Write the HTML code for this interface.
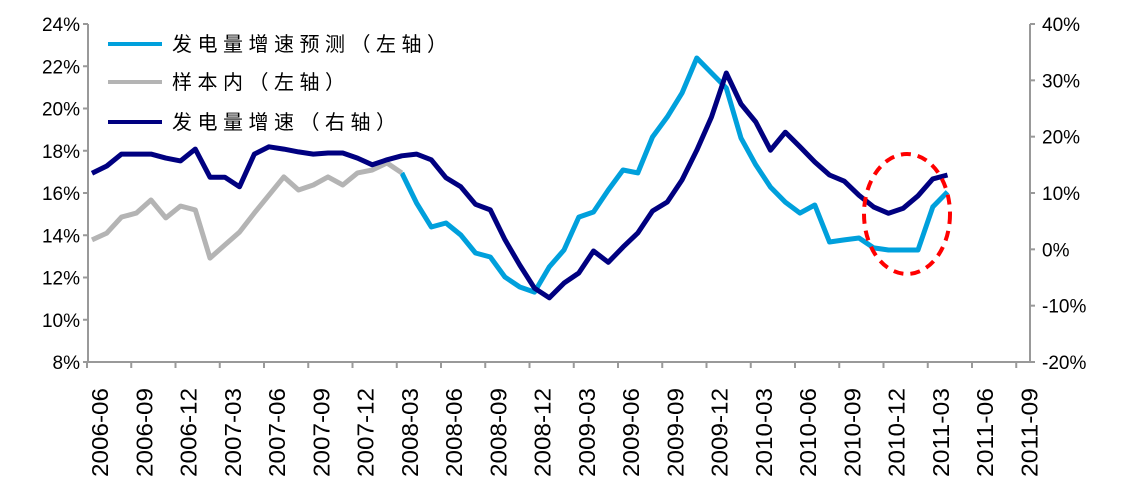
<!DOCTYPE html>
<html><head><meta charset="utf-8"><style>
html,body{margin:0;padding:0;background:#fff;}
svg text{font-family:"Liberation Sans","Noto Sans CJK SC",sans-serif;}
</style></head><body>
<svg id="c" width="1125" height="489" xmlns="http://www.w3.org/2000/svg"></svg>
<script>
const categories=[];
for(let i=0;i<64;i++){const m=5+i;const y=2006+Math.floor(m/12);const mm=(m%12)+1;categories.push(y+'-'+(mm<10?'0':'')+mm);}
const leftTicks=[8,10,12,14,16,18,20,22,24];
const rightTicks=[-20,-10,0,10,20,30,40];
const sampleValues=[13.78,14.1,14.86,15.05,15.67,14.82,15.38,15.2,12.92,13.54,14.15,15.05,15.9,16.76,16.14,16.38,16.76,16.38,16.95,17.09,17.42,16.95];
const forecastValues=[16.95,15.53,14.39,14.58,14.01,13.16,12.97,12.02,11.55,11.31,12.5,13.3,14.86,15.1,16.14,17.09,16.95,18.65,19.6,20.73,22.39,21.68,20.97,18.6,17.33,16.28,15.57,15.05,15.43,13.68,13.78,13.87,13.4,13.3,13.3,13.3,15.34,16.05];
const forecastStart=21;
const growthValues=[13.5,14.8,16.9,16.9,16.9,16.2,15.7,17.8,12.8,12.8,11.1,16.9,18.2,17.8,17.3,16.9,17.1,17.1,16.2,15.0,15.9,16.6,16.9,15.9,12.7,11.1,8.0,7.0,1.7,-2.8,-6.9,-8.6,-6.0,-4.2,-0.3,-2.3,0.4,2.9,6.8,8.4,12.3,17.6,23.5,31.3,25.8,22.6,17.6,20.8,18.2,15.5,13.2,12.1,9.6,7.5,6.4,7.3,9.5,12.5,13.2];

const svg=document.getElementById('c');const NS='http://www.w3.org/2000/svg';
const L=88,R=1030,T=24,B=362;
const x=i=>92+i*14.75;
const yl=v=>T+(24-v)*(B-T)/16;
const yr=v=>T+(40-v)*(B-T)/60;
function el(t,a,p){const e=document.createElementNS(NS,t);for(const k in a)e.setAttribute(k,a[k]);(p||svg).appendChild(e);return e;}
let a=el('line',{x1:L,y1:T,x2:L,y2:B,stroke:'#999','stroke-width':2});


a=el('line',{x1:R,y1:T,x2:R,y2:B,stroke:'#999','stroke-width':2});


a=el('line',{x1:L,y1:B,x2:R,y2:B,stroke:'#999','stroke-width':2});


leftTicks.forEach(v=>{el('line',{x1:L-5,y1:yl(v),x2:L,y2:yl(v),stroke:'#999','stroke-width':2});
const t=el('text',{x:80,y:yl(v)+7,'text-anchor':'end','font-size':19,fill:'#000'});t.textContent=v+'%';

});
rightTicks.forEach(v=>{el('line',{x1:R,y1:yr(v),x2:R+5,y2:yr(v),stroke:'#999','stroke-width':2});
const t=el('text',{x:1042,y:yr(v)+7,'text-anchor':'start','font-size':19,fill:'#000'});t.textContent=v+'%';

});
for(let i=0;i<=63;i+=3){const xx=x(i)-5;el('line',{x1:xx,y1:B,x2:xx,y2:B+6,stroke:'#999','stroke-width':2});}
categories.forEach((c,i)=>{if(i%3)return;const t=el('text',{transform:`translate(${x(i)+16},${388}) rotate(-90)`,'text-anchor':'end','font-size':23,fill:'#000',textLength:89,lengthAdjust:'spacingAndGlyphs'});t.textContent=c;

});
function line(vals,off,f,col,name){const p=vals.map((v,i)=>(i?'L':'M')+x(i+off).toFixed(1)+','+f(v).toFixed(1)).join('');
const e=el('path',{d:p,fill:'none',stroke:col,'stroke-width':5,'stroke-linejoin':'round'});

}
line(forecastValues,forecastStart,yl,'#00a0dc','forecast-line');
line(sampleValues,0,yl,'#b4b4b4','sample-line');
line(growthValues,0,yr,'#000080','growth-line');
const ell=el('ellipse',{cx:907,cy:214,rx:43,ry:60,fill:'none',stroke:'#f00','stroke-width':4,'stroke-dasharray':'10,7'});


const leg=[['#00a0dc','发电量增速预测（左轴）',44],['#b4b4b4','样本内（左轴）',82],['#000080','发电量增速（右轴）',122]];
leg.forEach(l=>{const g=el('g',{});


el('line',{x1:108,y1:l[2],x2:162,y2:l[2],stroke:l[0],'stroke-width':4},g);
const t=el('text',{x:172,y:l[2]+7,'font-size':20,fill:'#000','letter-spacing':'5.5'},g);t.textContent=l[1];});
</script>
</body></html>
